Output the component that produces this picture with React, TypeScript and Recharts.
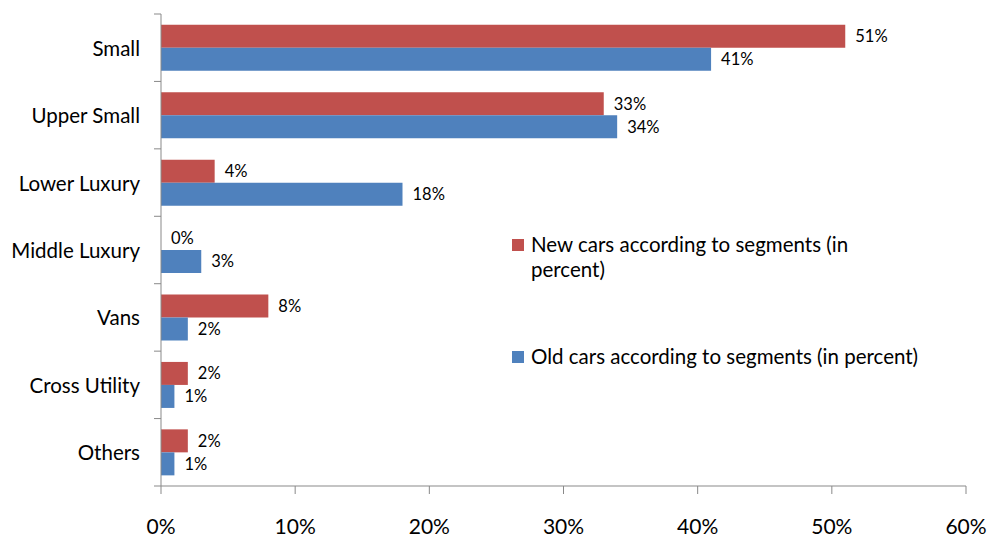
import React from "react";
import {
  BarChart,
  Bar,
  XAxis,
  YAxis,
  Legend,
  LabelList
} from "recharts";

const segments = [
  "Small",
  "Upper Small",
  "Lower Luxury",
  "Middle Luxury",
  "Vans",
  "Cross Utility",
  "Others"
];
const newCars = [51, 33, 4, 0, 8, 2, 2];
const oldCars = [41, 34, 18, 3, 2, 1, 1];
const xTicks = [0, 10, 20, 30, 40, 50, 60];

const NEW_NAME = "New cars according to segments (in percent)";
const OLD_NAME = "Old cars according to segments (in percent)";
const RED = "#C0504D";
const BLUE = "#4F81BD";
const AXIS = "#898989";
const FONT = "Lato, 'Open Sans', sans-serif";

const W = 990;
const H = 536;
const TOP = 14;
const BOTTOM = 50;
const AXIS_X = 161;
const band = (H - TOP - BOTTOM) / segments.length;

const data = segments.map((name, i) => ({
  name,
  newCars: newCars[i],
  oldCars: oldCars[i]
}));

const CategoryTick = (props: any) => {
  const { y, payload, index } = props;
  const last = index === segments.length - 1;
  return (
    <g>
      <line x1={AXIS_X - 7} x2={AXIS_X} y1={y - band / 2} y2={y - band / 2} stroke={AXIS} />
      {last && (
        <line x1={AXIS_X - 7} x2={AXIS_X} y1={y + band / 2} y2={y + band / 2} stroke={AXIS} />
      )}
      <text
        x={AXIS_X - 21}
        y={y}
        textAnchor="end"
        dominantBaseline="central"
        fontSize={20.5}
        fontFamily={FONT}
        fill="#000"
      >
        {payload.value}
      </text>
    </g>
  );
};

const ValueTick = (props: any) => {
  const { x, payload } = props;
  return (
    <g>
      <line x1={x} x2={x} y1={H - BOTTOM} y2={H - BOTTOM + 8} stroke={AXIS} />
      <text
        x={x}
        y={H - BOTTOM + 39}
        textAnchor="middle"
        dominantBaseline="central"
        fontSize={21}
        fontFamily={FONT}
        fill="#000"
      >
        {`${payload.value}%`}
      </text>
    </g>
  );
};

const renderLegend = (props: any) => {
  const items = props.payload || [];
  return (
    <div style={{ fontFamily: FONT, fontSize: 20.5, color: "#000", lineHeight: "25px" }}>
      {items.map((item: any, i: number) => (
        <div
          key={item.value}
          style={{ display: "flex", alignItems: "flex-start", marginBottom: i === 0 ? 62 : 0 }}
        >
          <span
            style={{
              display: "inline-block",
              width: 12,
              height: 12,
              background: item.color,
              marginTop: 7,
              marginRight: 7,
              flex: "none"
            }}
          />
          <span style={{ width: 395 }}>{item.value}</span>
        </div>
      ))}
    </div>
  );
};

// keep zero bars in the layout so their label still shows
const keepZero = (v: any) => (v === 0 ? 0.01 : 0);

const App: React.FC = () => {
  return (
    <div style={{ position: "absolute", left: 0, top: 0, background: "#fff" }}>
      <BarChart
        width={W}
        height={H}
        data={data}
        layout="vertical"
        margin={{ top: TOP, right: W - 966, left: 0, bottom: 0 }}
        barCategoryGap="16%"
        barGap={0}
      >
        <XAxis
          type="number"
          domain={[0, 60]}
          ticks={xTicks}
          interval={0}
          height={BOTTOM}
          stroke={AXIS}
          tickLine={false}
          tick={<ValueTick />}
        />
        <YAxis
          type="category"
          dataKey="name"
          width={AXIS_X}
          stroke={AXIS}
          tickLine={false}
          interval={0}
          tick={<CategoryTick />}
        />
        <Legend
          content={renderLegend}
          layout="horizontal"
          verticalAlign="middle"
          wrapperStyle={{ position: "absolute", left: 512, top: 232, width: 430 }}
        />
        <Bar
          dataKey="newCars"
          name={NEW_NAME}
          fill={RED}
          minPointSize={keepZero}
          isAnimationActive={false}
        >
          <LabelList
            dataKey="newCars"
            position="right"
            offset={10}
            formatter={(v: any) => `${v}%`}
            style={{ fontSize: 16.5, fill: "#000", fontFamily: FONT }}
          />
        </Bar>
        <Bar dataKey="oldCars" name={OLD_NAME} fill={BLUE} isAnimationActive={false}>
          <LabelList
            dataKey="oldCars"
            position="right"
            offset={10}
            formatter={(v: any) => `${v}%`}
            style={{ fontSize: 16.5, fill: "#000", fontFamily: FONT }}
          />
        </Bar>
      </BarChart>
    </div>
  );
};

export default App;
